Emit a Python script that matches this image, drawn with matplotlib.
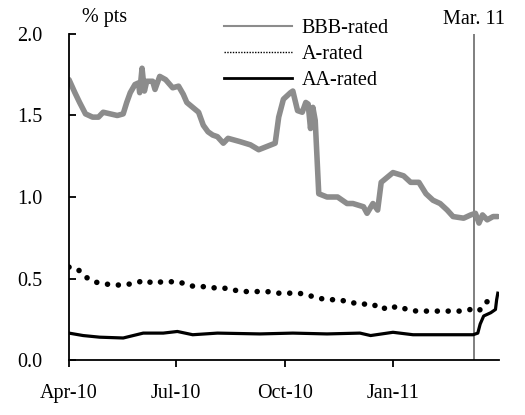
import matplotlib
matplotlib.use("Agg")
import matplotlib.pyplot as plt
import matplotlib.dates as mdates
from matplotlib.lines import Line2D
import pandas as pd

plt.rcParams['font.family'] = ['Liberation Serif', 'DejaVu Serif']

bbb_dates = ["2010-04-01", "2010-04-06", "2010-04-10", "2010-04-15", "2010-04-21", "2010-04-26",
             "2010-04-30", "2010-05-06", "2010-05-12", "2010-05-17", "2010-05-20", "2010-05-23",
             "2010-05-27", "2010-05-30", "2010-05-31", "2010-06-02", "2010-06-04", "2010-06-06",
             "2010-06-11", "2010-06-13", "2010-06-17", "2010-06-22", "2010-06-28", "2010-07-03",
             "2010-07-07", "2010-07-10", "2010-07-15", "2010-07-20", "2010-07-24", "2010-07-28",
             "2010-08-01", "2010-08-05", "2010-08-10", "2010-08-14", "2010-08-24", "2010-09-02",
             "2010-09-09", "2010-09-16", "2010-09-23", "2010-09-26", "2010-09-30", "2010-10-06",
             "2010-10-08", "2010-10-12", "2010-10-16", "2010-10-19", "2010-10-21", "2010-10-23",
             "2010-10-25", "2010-10-27", "2010-10-30", "2010-11-06", "2010-11-15", "2010-11-23",
             "2010-11-28", "2010-12-07", "2010-12-10", "2010-12-15", "2010-12-19", "2010-12-22",
             "2010-12-27", "2011-01-01", "2011-01-10", "2011-01-16", "2011-01-23", "2011-01-29",
             "2011-02-04", "2011-02-10", "2011-02-16", "2011-02-21", "2011-03-02", "2011-03-08",
             "2011-03-12", "2011-03-15", "2011-03-18", "2011-03-22", "2011-03-27", "2011-03-31"]
bbb_vals = [1.72, 1.64, 1.58, 1.51, 1.49, 1.49,
            1.52, 1.51, 1.50, 1.51, 1.58, 1.64,
            1.69, 1.70, 1.64, 1.79, 1.65, 1.71,
            1.71, 1.66, 1.74, 1.72, 1.67, 1.68,
            1.63, 1.58, 1.55, 1.52, 1.44, 1.40,
            1.38, 1.37, 1.33, 1.36, 1.34, 1.32,
            1.29, 1.31, 1.33, 1.49, 1.60, 1.64,
            1.65, 1.53, 1.52, 1.58, 1.57, 1.42,
            1.55, 1.47, 1.02, 1.00, 1.00, 0.96,
            0.96, 0.94, 0.90, 0.96, 0.92, 1.09,
            1.12, 1.15, 1.13, 1.09, 1.09, 1.02,
            0.98, 0.96, 0.92, 0.88, 0.87, 0.89,
            0.90, 0.84, 0.89, 0.86, 0.88, 0.88]

a_dates = ["2010-04-01", "2010-04-08", "2010-04-15", "2010-04-22", "2010-04-29", "2010-05-08",
           "2010-05-17", "2010-05-26", "2010-06-05", "2010-06-11", "2010-06-19", "2010-06-25",
           "2010-07-03", "2010-07-11", "2010-07-17", "2010-07-26", "2010-08-05", "2010-08-14",
           "2010-08-24", "2010-09-02", "2010-09-09", "2010-09-16", "2010-09-25", "2010-10-05",
           "2010-10-13", "2010-10-20", "2010-10-29", "2010-11-07", "2010-11-17", "2010-11-26",
           "2010-12-05", "2010-12-13", "2010-12-21", "2010-12-26", "2011-01-05", "2011-01-13",
           "2011-01-21", "2011-01-31", "2011-02-10", "2011-02-19", "2011-02-27", "2011-03-08",
           "2011-03-15", "2011-03-20", "2011-03-25"]
a_vals = [0.57, 0.56, 0.51, 0.48, 0.47, 0.46,
          0.46, 0.47, 0.49, 0.47, 0.48, 0.48,
          0.48, 0.46, 0.45, 0.45, 0.44, 0.44,
          0.42, 0.42, 0.42, 0.42, 0.41, 0.41,
          0.41, 0.40, 0.38, 0.37, 0.37, 0.35,
          0.35, 0.33, 0.34, 0.31, 0.33, 0.31,
          0.30, 0.30, 0.30, 0.30, 0.30, 0.31,
          0.30, 0.35, 0.37]

aa_dates = ["2010-04-01", "2010-04-13", "2010-04-27", "2010-05-17", "2010-06-03", "2010-06-20",
            "2010-07-02", "2010-07-15", "2010-08-05", "2010-09-10", "2010-10-08", "2010-11-06",
            "2010-12-04", "2010-12-13", "2011-01-01", "2011-01-18", "2011-02-13", "2011-03-10",
            "2011-03-14", "2011-03-16", "2011-03-19", "2011-03-25", "2011-03-29", "2011-03-30",
            "2011-03-31"]
aa_vals = [0.165, 0.15, 0.14, 0.135, 0.165, 0.165,
           0.175, 0.155, 0.165, 0.16, 0.165, 0.16,
           0.165, 0.15, 0.17, 0.155, 0.155, 0.155,
           0.165, 0.22, 0.27, 0.29, 0.31, 0.37,
           0.41]

event_date = "2011-03-11"
event_label = "Mar. 11"
labels = ["BBB-rated", "A-rated", "AA-rated"]
y_ticks = [0.0, 0.5, 1.0, 1.5, 2.0]
x_ticks = ["2010-04-01", "2010-07-01", "2010-10-01", "2011-01-01"]

fig = plt.figure(figsize=(5.25, 4.15), dpi=100)
ax = fig.add_axes([69/525, 55/415, 430/525, 326/415])

ax.plot(pd.to_datetime(bbb_dates), bbb_vals, color='#8c8c8c', lw=4.0,
        solid_joinstyle='round', solid_capstyle='round', zorder=2)
ax.plot(pd.to_datetime(a_dates), a_vals, color='black', lw=4.0,
        linestyle=(0, (0.01, 1.95)), dash_capstyle='round', zorder=3)
ax.plot(pd.to_datetime(aa_dates), aa_vals, color='black', lw=2.3,
        solid_joinstyle='round', zorder=4)

ev = pd.Timestamp(event_date)
ax.axvline(ev, color='#7f7f7f', lw=1.4, zorder=1)

ax.set_xlim(pd.Timestamp("2010-04-01"), pd.Timestamp("2011-04-01"))
ax.set_ylim(0, 2.0)
ax.set_yticks(y_ticks)
ax.set_yticklabels([f"{v:.1f}" for v in y_ticks])
ax.set_xticks(pd.to_datetime(x_ticks))
ax.xaxis.set_major_formatter(mdates.DateFormatter('%b-%y'))

for s in ['top', 'right']:
    ax.spines[s].set_visible(False)
for s in ['left', 'bottom']:
    ax.spines[s].set_linewidth(1.3)

ax.tick_params(axis='y', direction='in', length=5, width=1.3, pad=19, labelsize=14.5)
ax.tick_params(axis='x', direction='out', length=5, width=1.3, pad=12, labelsize=14.5)

ax.text(0.03, 1.02, "% pts", transform=ax.transAxes, fontsize=14.5, ha='left', va='bottom')
ax.text(ev, 2.03, event_label, fontsize=14.5, ha='center', va='bottom')

handles = [Line2D([], [], color='#8c8c8c', lw=1.5),
           Line2D([], [], color='black', lw=1.0, linestyle=(0, (1, 1))),
           Line2D([], [], color='black', lw=2.0)]
ax.legend(handles, labels, loc='upper left', bbox_to_anchor=(224/525, 1 - 19/415),
          bbox_transform=fig.transFigure, frameon=False, fontsize=14.5,
          handlelength=3.4, handletextpad=0.45, labelspacing=0.35, borderpad=0,
          borderaxespad=0)

fig.savefig("out.png", dpi=100)
